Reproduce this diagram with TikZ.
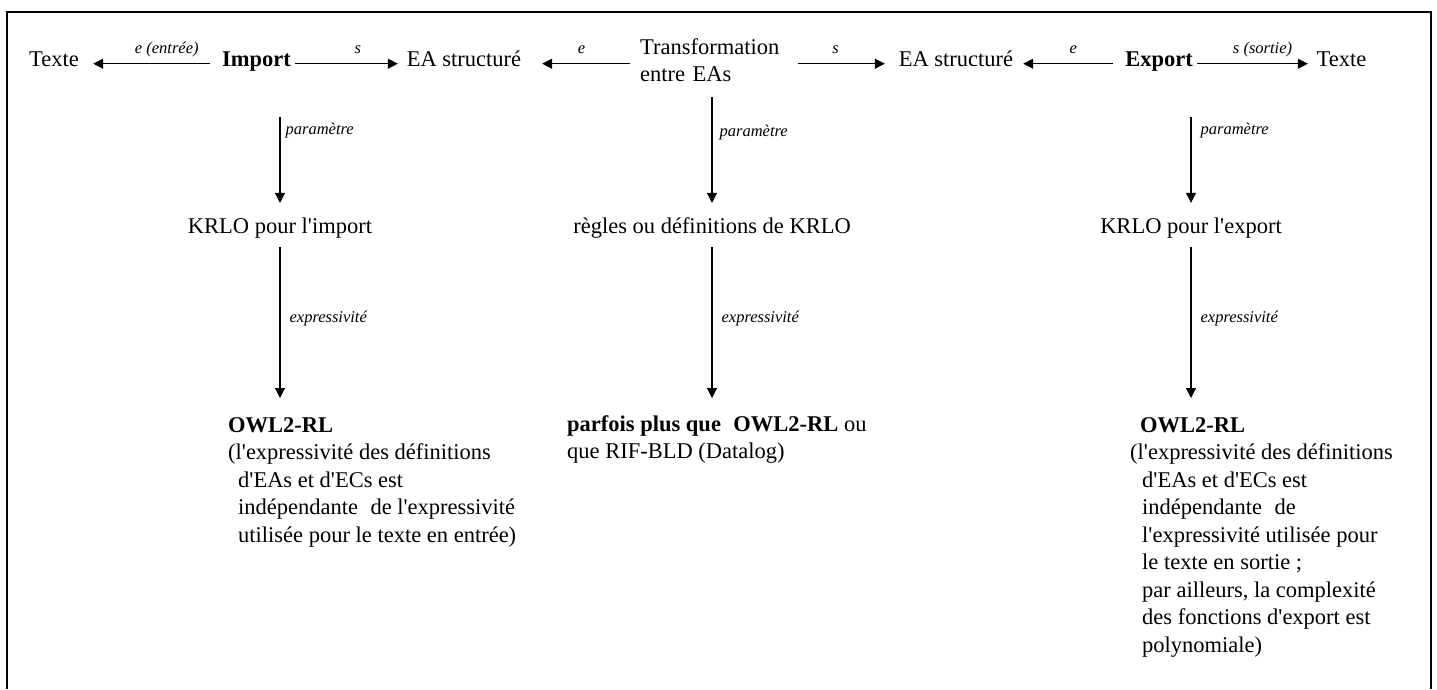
\documentclass[tikz,border=0pt]{standalone}
\usepackage{fontspec}
\setmainfont{Liberation Serif}
\usetikzlibrary{arrows.meta}
\newcommand\q{\textquotesingle}
\begin{document}
\begin{tikzpicture}[x=1pt,y=-1pt,
  word/.style={inner sep=0pt, anchor=base, text height=15pt, text depth=5pt,
    font=\fontsize{22.5}{27.5}\selectfont},
  block/.style={inner sep=0pt, anchor=north west, align=left,
    font=\fontsize{22.5}{27.5}\selectfont},
  lab/.style={inner sep=0pt, text height=9pt, text depth=3pt,
    font=\fontsize{16.5}{19}\selectfont\itshape},
  toplab/.style={lab, anchor=base, yshift=10.5pt},
  sidelab/.style={lab, anchor=base west},
  arr/.style={line width=1.2pt, -{Triangle[length=10pt,width=10pt]}},
  frame/.style={line width=2.6pt},
]
\useasboundingbox (0,0) rectangle (1437,689);

% open frame
\draw[frame] (7,689) -- (7,12) -- (1431,12) -- (1431,689);

% top row
\node[word, minimum width=52pt]  (txtL)  at (54,66)     {Texte};
\node[word, minimum width=73pt]  (imp)   at (256.5,66)  {\textbf{Import}};
\node[word, minimum width=118pt] (eaL)   at (464,66)    {EA structuré};
\node[block, text width=145pt]   (trans) at (640,38)    {Transformation\\entre EAs};
\node[word, minimum width=118pt] (eaR)   at (956,66)    {EA structuré};
\node[word, minimum width=68pt]  (exp)   at (1159,66)   {\textbf{Export}};
\node[word, minimum width=53pt]  (txtR)  at (1341.5,66) {Texte};

% languages (parameters)
\node[word, minimum width=193pt] (krloI) at (280,233)  {KRLO pour l\q import};
\node[word, minimum width=305pt] (krloT) at (712,233)  {règles ou définitions de KRLO};
\node[word, minimum width=198pt] (krloE) at (1191,233) {KRLO pour l\q export};

% expressiveness
\node[block] (owlI) at (228,417) {\textbf{OWL2-RL}\\
  (l\q expressivité des définitions\\
  \hspace*{10pt}d\q EAs et d\q ECs est\\
  \hspace*{10pt}indépendante\hspace{0.3em} de l\q expressivité\\
  \hspace*{10pt}utilisée pour le texte en entrée)};
\node[block] (owlT) at (567,415) {\textbf{parfois plus que\hspace{0.3em} OWL2-RL} ou\\
  que RIF-BLD (Datalog)};
\node[block] (owlE) at (1130,417) {\hspace*{10pt}\textbf{OWL2-RL}\\
  (l\q expressivité des définitions\\
  \hspace*{12pt}d\q EAs et d\q ECs est\\
  \hspace*{12pt}indépendante\hspace{0.3em} de\\
  \hspace*{12pt}l\q expressivité utilisée pour\\
  \hspace*{12pt}le texte en sortie ;\\
  \hspace*{12pt}par ailleurs, la complexité\\
  \hspace*{12pt}des fonctions d\q export est\\
  \hspace*{12pt}polynomiale)};

% horizontal connectors
\draw[arr, shorten <=10pt, shorten >=13pt] (imp.mid west) --
  node[toplab, pos=0.38] {e (entrée)} (txtL.mid east);
\draw[arr, shorten <=2pt, shorten >=7pt] (imp.mid east) --
  node[toplab, pos=0.58] {s} (eaL.mid west);
\draw[arr, shorten <=10pt, shorten >=19pt] (trans.west |- eaL.mid) --
  node[toplab, pos=0.5] {e} (eaL.mid east);
\draw[arr, shorten <=13pt, shorten >=12pt] (trans.east |- eaR.mid) --
  node[toplab, pos=0.45] {s} (eaR.mid west);
\draw[arr, shorten <=12pt, shorten >=8pt] (exp.mid west) --
  node[toplab, pos=0.47] {e} (eaR.mid east);
\draw[arr, shorten <=4pt, shorten >=7pt] (exp.mid east) --
  node[toplab, pos=0.57] {s (sortie)} (txtR.mid west);

% vertical connectors
\draw[arr, shorten <=46pt, shorten >=15pt] (krloI.north |- imp.south) --
  node[sidelab, pos=0.435, xshift=5pt] {paramètre} (krloI.north);
\draw[arr, shorten <=15pt, shorten >=15pt] (krloT.north |- trans.south) --
  node[sidelab, pos=0.40, xshift=7pt] {paramètre} (krloT.north);
\draw[arr, shorten <=46pt, shorten >=15pt] (krloE.north |- exp.south) --
  node[sidelab, pos=0.435, xshift=9pt] {paramètre} (krloE.north);

\draw[arr, shorten <=9pt, shorten >=19pt] (krloI.south) --
  node[sidelab, pos=0.47, xshift=9pt] {expressivité} (krloI.south |- owlI.north);
\draw[arr, shorten <=9pt, shorten >=17pt] (krloT.south) --
  node[sidelab, pos=0.475, xshift=9pt] {expressivité} (krloT.south |- owlT.north);
\draw[arr, shorten <=9pt, shorten >=19pt] (krloE.south) --
  node[sidelab, pos=0.47, xshift=9pt] {expressivité} (krloE.south |- owlE.north);
\end{tikzpicture}
\end{document}
